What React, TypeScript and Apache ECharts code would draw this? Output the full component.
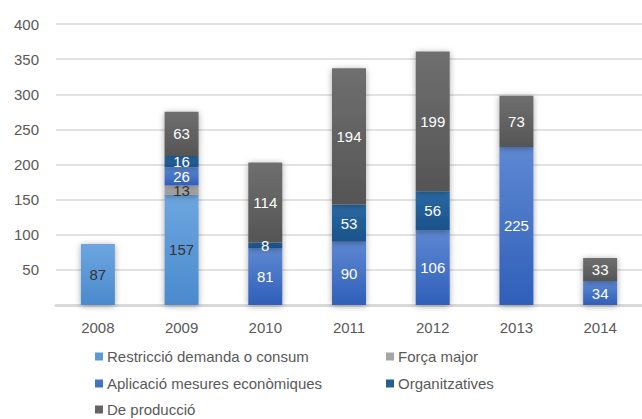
import React, { useEffect, useRef } from "react";
import * as echarts from "echarts";

const years = ["2008", "2009", "2010", "2011", "2012", "2013", "2014"];
const seriesNames = [
  "Restricció demanda o consum",
  "Força major",
  "Aplicació mesures econòmiques",
  "Organitzatives",
  "De producció",
];
const restriccio = [87, 157, null, null, null, null, null];
const forcaMajor = [null, 13, null, null, null, null, null];
const aplicacio = [null, 26, 81, 90, 106, 225, 34];
const organitzatives = [null, 16, 8, 53, 56, null, null];
const produccio = [null, 63, 114, 194, 199, 73, 33];
const yTicks = [0, 50, 100, 150, 200, 250, 300, 350, 400];

const grad = (top: string, bottom: string) =>
  new echarts.graphic.LinearGradient(0, 0, 0, 1, [
    { offset: 0, color: top },
    { offset: 1, color: bottom },
  ]);

export default function App() {
  const ref = useRef<HTMLDivElement>(null);
  useEffect(() => {
    if (!ref.current) return;
    const chart = echarts.init(ref.current, undefined, { renderer: "svg" });
    const font = "'Liberation Sans', Arial, sans-serif";
    const colors = [
      grad("#6da6de", "#4a8ace"),
      grad("#b0b0b0", "#9a9a9a"),
      grad("#5e88d2", "#2f5fb9"),
      grad("#2a6aa3", "#1b5189"),
      grad("#6f6f6f", "#555555"),
    ];
    const legendColors = ["#5b9bd5", "#a5a5a5", "#4472c4", "#255e91", "#636363"];
    const datas = [restriccio, forcaMajor, aplicacio, organitzatives, produccio];
    const labelColors = ["#333333", "#333333", "#ffffff", "#ffffff", "#ffffff"];
    const legendPos = [
      { left: 90, top: 344 },
      { left: 381, top: 344 },
      { left: 90, top: 371 },
      { left: 381, top: 371 },
      { left: 90, top: 397 },
    ];
    const option: any = {
      animation: false,
      backgroundColor: "#ffffff",
      grid: { left: 56, top: 24, width: 594, height: 281 },
      legend: seriesNames.map((n, i) => ({
        data: [{ name: n, itemStyle: { color: legendColors[i] } }],
        left: legendPos[i].left,
        top: legendPos[i].top,
        itemWidth: 8,
        itemHeight: 8,
        itemGap: 4,
        icon: "rect",
        selectedMode: false,
        textStyle: { color: "#595959", fontSize: 15, fontFamily: font, padding: [0, 0, 0, -1] },
      })),
      xAxis: {
        type: "category",
        data: years,
        axisLine: { lineStyle: { color: "#d9d9d9", width: 3 } },
        axisTick: { show: false },
        axisLabel: { color: "#595959", fontSize: 15, fontFamily: font, margin: 15 },
      },
      yAxis: {
        type: "value",
        min: yTicks[0],
        max: yTicks[yTicks.length - 1],
        interval: 50,
        axisLine: { show: false },
        axisTick: { show: false },
        splitLine: { lineStyle: { color: "#d9d9d9", width: 1.5 } },
        axisLabel: {
          color: "#595959",
          fontSize: 15,
          fontFamily: font,
          margin: 17,
          formatter: (v: number) => (v === 0 ? "" : String(v)),
        },
      },
      series: seriesNames.map((n, i) => ({
        name: n,
        type: "bar",
        stack: "total",
        barWidth: 34,
        data: datas[i],
        itemStyle: {
          color: colors[i],
          shadowColor: "rgba(0,0,0,0.35)",
          shadowBlur: 6,
          shadowOffsetX: 0,
          shadowOffsetY: 1,
        },
        label: {
          show: true,
          position: "inside",
          color: labelColors[i],
          fontSize: 15,
          fontFamily: font,
          formatter: (p: any) => (p.value == null ? "" : String(p.value)),
        },
      })),
    };
    chart.setOption(option);
    return () => chart.dispose();
  }, []);
  return (
    <div
      ref={ref}
      style={{ position: "absolute", left: 0, top: 0, width: 642, height: 419, overflow: "hidden" }}
    />
  );
}
